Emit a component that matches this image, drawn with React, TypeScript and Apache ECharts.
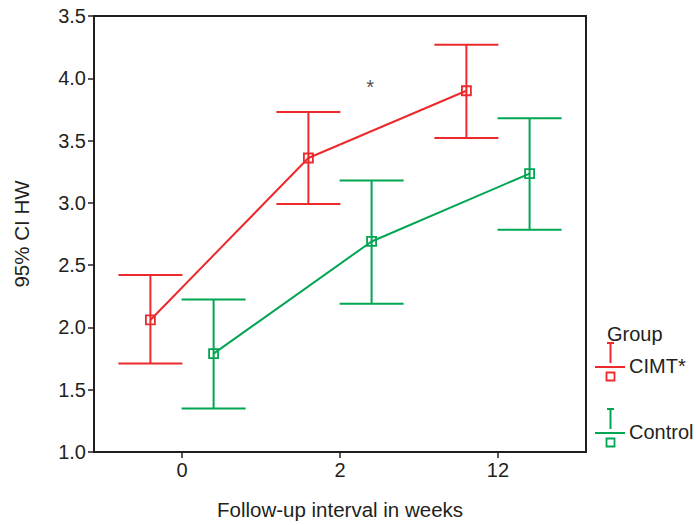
import React, { useEffect, useRef } from "react";
import * as echarts from "echarts";

const categories = ["0", "2", "12"];
const groups = ["CIMT*", "Control"];
const groupColors = ["#ec2a2d", "#00a651"];
const groupOffsets = [-0.2, 0.2];
const cimtMean = [2.06, 3.36, 3.9];
const cimtLow = [1.71, 2.99, 3.52];
const cimtHigh = [2.42, 3.73, 4.27];
const controlMean = [1.79, 2.69, 3.235];
const controlLow = [1.35, 2.19, 2.785];
const controlHigh = [2.225, 3.18, 3.68];
const yTickLabels = ["1.0", "1.5", "2.0", "2.5", "3.0", "3.5", "4.0", "3.5"];
const annotation = { x: 1.19, y: 3.93, text: "*" };

const FONT = "Liberation Sans, Arial, sans-serif";
const TXT = "#231f20";
const FS = 20;

export default function App() {
  const ref = useRef<HTMLDivElement>(null);
  useEffect(() => {
    if (!ref.current) return;
    const chart = echarts.init(ref.current, null, { renderer: "svg" });
    const means = [cimtMean, controlMean];
    const lows = [cimtLow, controlLow];
    const highs = [cimtHigh, controlHigh];
    const series: any[] = [];
    groups.forEach((g, gi) => {
      const color = groupColors[gi];
      series.push({
        type: "custom",
        name: g + "_err",
        silent: true,
        data: categories.map((c, i) => [i + groupOffsets[gi], lows[gi][i], highs[gi][i]]),
        renderItem: (params: any, api: any) => {
          const x = api.value(0);
          const lo = api.coord([x, api.value(1)]);
          const hi = api.coord([x, api.value(2)]);
          const hw = 32;
          const st = { stroke: color, lineWidth: 2 };
          return {
            type: "group",
            children: [
              { type: "line", shape: { x1: lo[0], y1: lo[1], x2: hi[0], y2: hi[1] }, style: st },
              { type: "line", shape: { x1: lo[0] - hw, y1: lo[1], x2: lo[0] + hw, y2: lo[1] }, style: st },
              { type: "line", shape: { x1: hi[0] - hw, y1: hi[1], x2: hi[0] + hw, y2: hi[1] }, style: st },
            ],
          };
        },
        z: 2,
      });
      series.push({
        type: "line",
        name: g,
        data: categories.map((c, i) => [i + groupOffsets[gi], means[gi][i]]),
        symbol: "rect",
        symbolSize: 9,
        lineStyle: { color, width: 2 },
        itemStyle: { color: "rgba(255,255,255,0)", borderColor: color, borderWidth: 1.8 },
        z: 3,
      });
    });
    series.push({
      type: "scatter",
      data: [[annotation.x, annotation.y]],
      symbolSize: 0,
      label: {
        show: true,
        position: "inside",
        formatter: annotation.text,
        color: TXT,
        fontSize: 20,
        fontFamily: FONT,
      },
      silent: true,
    });

    const legendChildren: any[] = [
      { type: "text", x: 607, y: 334, style: { text: "Group", fill: TXT, font: `${FS}px ${FONT}`, textVerticalAlign: "middle" } },
    ];
    const legendY = [343, 409];
    groups.forEach((g, gi) => {
      const c = groupColors[gi];
      const y0 = legendY[gi];
      const st = { stroke: c, lineWidth: 2 };
      legendChildren.push(
        { type: "line", shape: { x1: 610.5, y1: y0, x2: 610.5, y2: y0 + 20 }, style: st },
        { type: "line", shape: { x1: 607, y1: y0, x2: 614, y2: y0 }, style: st },
        { type: "line", shape: { x1: 595, y1: y0 + 24, x2: 625, y2: y0 + 24 }, style: st },
        { type: "rect", shape: { x: 606.5, y: y0 + 29.5, width: 8, height: 8 }, style: { stroke: c, lineWidth: 1.8, fill: "none" } },
        { type: "text", x: 629, y: y0 + 23, style: { text: g, fill: TXT, font: `${FS}px ${FONT}`, textVerticalAlign: "middle" } }
      );
    });

    chart.setOption({
      animation: false,
      backgroundColor: "#ffffff",
      textStyle: { fontFamily: FONT },
      grid: {
        left: 94,
        top: 16,
        width: 492,
        height: 437,
        show: true,
        borderColor: "#231f20",
        borderWidth: 2,
        backgroundColor: "transparent",
      },
      xAxis: {
        type: "value",
        min: -0.557,
        max: 2.557,
        name: "Follow-up interval in weeks",
        nameLocation: "middle",
        nameGap: 47,
        nameTextStyle: { color: TXT, fontSize: 20.5, fontFamily: FONT },
        splitLine: { show: false },
        axisLine: { show: true, onZero: false, lineStyle: { color: "#231f20", width: 2 } },
        axisTick: { show: true, customValues: [0, 1, 2], length: 6, lineStyle: { color: "#231f20", width: 1.5 } },
        axisLabel: {
          customValues: [0, 1, 2],
          formatter: (v: number) => categories[Math.round(v)] ?? "",
          color: TXT,
          fontSize: FS,
          fontFamily: FONT,
          margin: 8,
        },
      },
      yAxis: {
        type: "value",
        min: 1,
        max: 4.5,
        interval: 0.5,
        name: "95% CI HW",
        nameLocation: "middle",
        nameRotate: 90,
        nameGap: 62,
        nameTextStyle: { color: TXT, fontSize: 20.5, fontFamily: FONT },
        splitLine: { show: false },
        axisLine: { show: true, onZero: false, lineStyle: { color: "#231f20", width: 2 } },
        axisTick: { show: true, length: 6, lineStyle: { color: "#231f20", width: 1.5 } },
        axisLabel: {
          formatter: (v: number) => yTickLabels[Math.round((v - 1) / 0.5)] ?? "",
          color: TXT,
          fontSize: FS,
          fontFamily: FONT,
          margin: 8,
        },
      },
      graphic: legendChildren,
      series,
    });
    return () => chart.dispose();
  }, []);
  return (
    <div
      ref={ref}
      style={{ position: "fixed", left: 0, top: 0, width: 696, height: 525, background: "#fff" }}
    />
  );
}
